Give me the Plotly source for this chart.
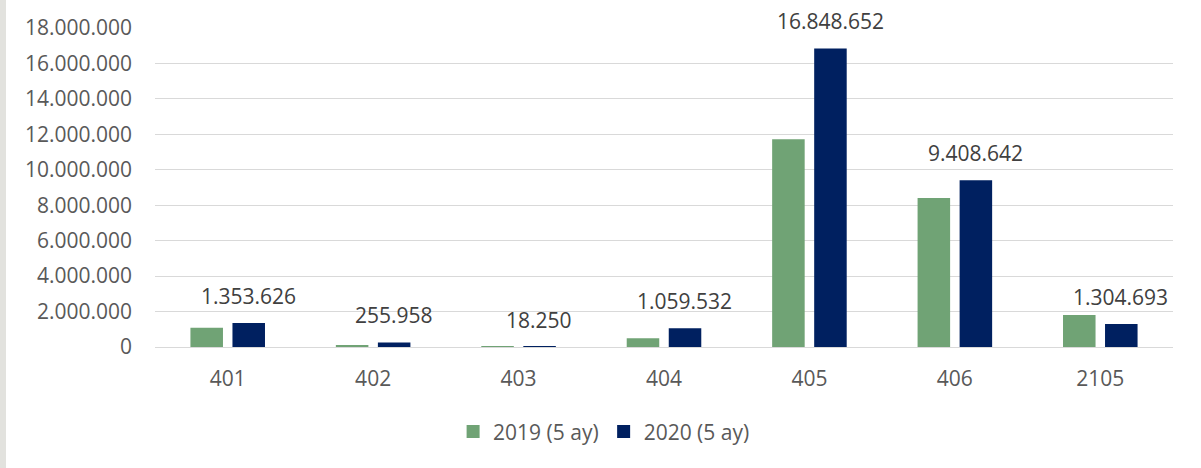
import plotly.graph_objects as go

categories = ["401", "402", "403", "404", "405", "406", "2105"]
series_names = ["2019 (5 ay)", "2020 (5 ay)"]
values_2019 = [1080000, 100000, 50000, 500000, 11720000, 8410000, 1810000]
values_2020 = [1353626, 255958, 18250, 1059532, 16848652, 9408642, 1304693]
y_ticks = [0, 2000000, 4000000, 6000000, 8000000, 10000000, 12000000, 14000000, 16000000, 18000000]

GREEN = "#70a375"
NAVY = "#002060"
FONT = "Open Sans"
FS = 21

W, H = 1201, 468
ML, MR, MT, MB = 155, 28, 28, 121
PW = W - ML - MR


def fmt(v):
    return f"{v:,}".replace(",", ".")


fig = go.Figure()
for name, vals, col in [(series_names[0], values_2019, GREEN), (series_names[1], values_2020, NAVY)]:
    fig.add_trace(go.Bar(x=categories, y=vals, name=name, showlegend=False,
                         marker=dict(color=col, line=dict(width=0))))
for name, col in [(series_names[0], GREEN), (series_names[1], NAVY)]:
    fig.add_trace(go.Scatter(x=[None], y=[None], mode="markers", name=name,
                             marker=dict(symbol="square", size=13, color=col)))

for i, v in enumerate(values_2020):
    fig.add_annotation(x=i, y=v, xref="x", yref="y", text=fmt(v), showarrow=False,
                       xshift=20.7, yshift=27, yanchor="middle", xanchor="center",
                       font=dict(family=FONT, size=FS, color="#404040"))

fig.add_shape(type="rect", xref="paper", yref="paper",
              x0=-ML / PW, x1=(6 - ML) / PW, y0=-2, y1=2,
              fillcolor="#e2e2de", line=dict(width=0), layer="below")

fig.update_layout(
    width=W, height=H,
    margin=dict(l=ML, r=MR, t=MT, b=MB),
    paper_bgcolor="white", plot_bgcolor="white",
    separators=",.",
    barmode="group", bargap=0.422, bargroupgap=0.226,
    font=dict(family=FONT, size=FS, color="#595959"),
    showlegend=True,
    legend=dict(orientation="h", xref="container", yref="container", x=0.503, y=0.077,
                xanchor="center", yanchor="middle", font=dict(family=FONT, size=FS, color="#595959"),
                itemwidth=30, tracegroupgap=0),
    xaxis=dict(type="category", range=[-0.5, len(categories) - 0.5], autorange=False,
               showgrid=False, showline=True, linecolor="#d9d9d9", linewidth=1.3,
               ticks="", ticklabelstandoff=13, tickfont=dict(family=FONT, size=FS, color="#595959")),
    yaxis=dict(range=[0, 18000000], autorange=False, tickvals=y_ticks, tickformat=",d", showgrid=True,
               gridcolor="#d9d9d9", gridwidth=1.3, zeroline=True, zerolinecolor="#d9d9d9",
               zerolinewidth=1.3, showline=False, ticks="", ticklabelstandoff=22,
               tickfont=dict(family=FONT, size=FS, color="#595959")),
)

fig.write_html("out.html", config={"displayModeBar": False},
               post_script="document.body.style.margin='0';document.body.style.padding='0';")
